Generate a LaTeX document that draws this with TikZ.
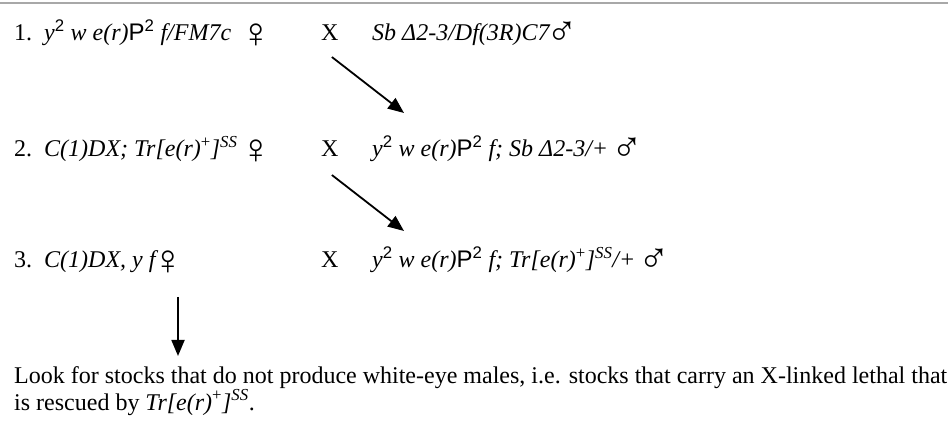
\documentclass[tikz,border=0pt]{standalone}
\usepackage{fontspec}
\setmainfont{Liberation Serif}
\newfontfamily\supfont{Liberation Sans}
\usetikzlibrary{arrows.meta, positioning}
\definecolor{rulegray}{HTML}{A8A8A8}
\newcommand{\two}{\textsuperscript{\supfont\upshape 2}}
\newcommand{\Ptwo}{{\supfont\upshape P}\two}
\newcommand{\trss}{Tr[e(r)\textsuperscript{\upshape +}]\textsuperscript{SS}}
\newcommand{\fem}{\hspace{-3pt}\raisebox{-7pt}{\upshape\fontsize{42}{42}\selectfont\char"2640}}
\newcommand{\mal}{\hspace{-3pt}\raisebox{-5pt}{\upshape\fontsize{42}{42}\selectfont\char"2642}}

\begin{document}
\begin{tikzpicture}[x=1pt, y=-1pt,
    geno/.style={anchor=base west, inner sep=0pt, font=\fontsize{24}{26}\selectfont\itshape},
    cross/.style={anchor=base west, inner sep=0pt, font=\fontsize{24}{26}\selectfont},
    note/.style={anchor=base west, inner sep=0pt, align=left, font=\fontsize{24}{22}\selectfont},
    arrow/.style={-{Triangle[length=16pt, width=13pt]}, line width=1.8pt}
  ]
    \useasboundingbox (0,0) rectangle (948,427);
    \draw[rulegray, line width=2.5pt] (0,3) -- (948,3);

    % generation 1
    \node[geno] (f1) at (14,41) {\upshape 1.\enspace\itshape y\two{} w e(r)\Ptwo{} f/FM7c \hspace{6pt}\fem};
    \node[cross] (x1) at (321,41) {X};
    \node[geno] (m1) at (372,41) {Sb \textit{Δ}2-3/Df(3R)C7\mal};

    % generation 2
    \node[geno] (f2) at (14,157) {\upshape 2.\enspace\itshape C(1)DX; \trss{} \fem};
    \node[cross] (x2) at (321,157) {X};
    \node[geno] (m2) at (372,157) {y\two{} w e(r)\Ptwo{} f; Sb Δ2-3/+ \mal};

    % generation 3
    \node[geno] (f3) at (14,268) {\upshape 3.\enspace\itshape C(1)DX, y f\fem};
    \node[cross] (x3) at (321,268) {X};
    \node[geno] (m3) at (372,268) {y\two{} w e(r)\Ptwo{} f; \trss/+ \mal};

    \node[note] (res) at (14,410) {Look for stocks that do not produce white-eye males, i.e. stocks that carry an X-linked lethal that\\
      is rescued by \textit{\trss}.};

    \coordinate (t1) at (404,113);
    \coordinate (t2) at (404,231);
    \coordinate (d3) at (178,297);
    \coordinate (t3) at (178,356);

    \draw[arrow] ([xshift=2pt,yshift=-16pt]x1.base) -- (t1);
    \draw[arrow] ([xshift=2pt,yshift=-18pt]x2.base) -- (t2);
    \draw[arrow] (d3) -- (t3);
  \end{tikzpicture}
\end{document}
